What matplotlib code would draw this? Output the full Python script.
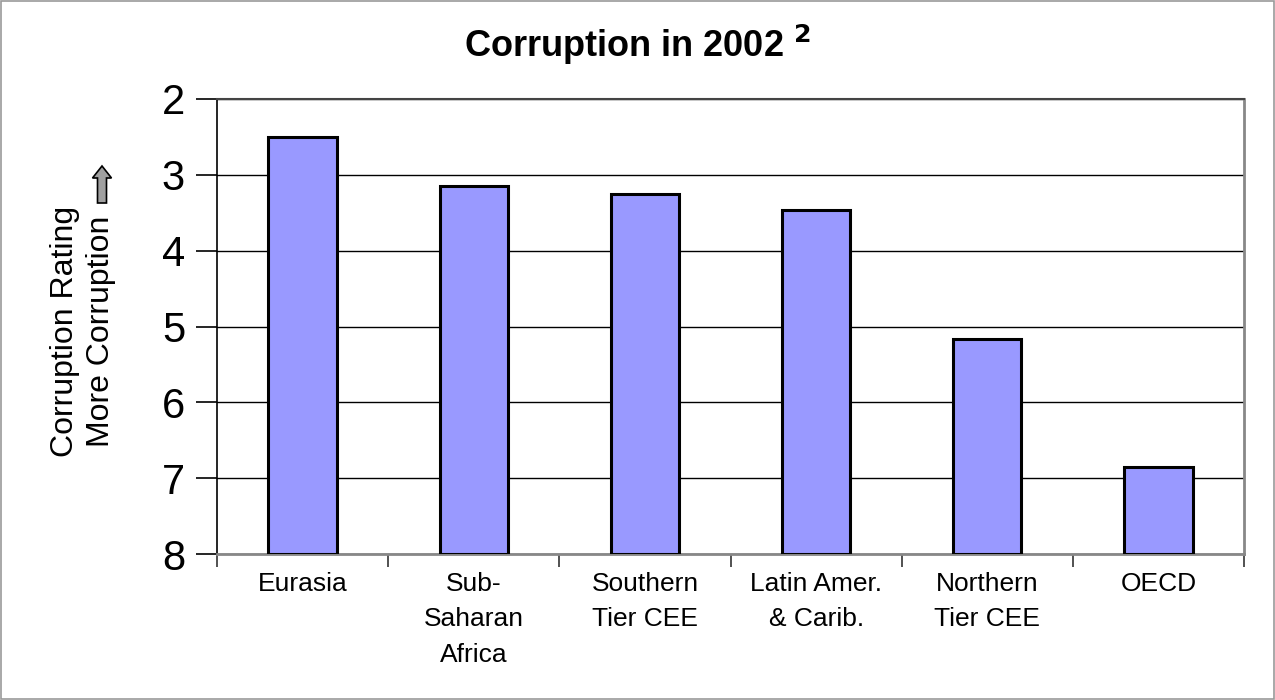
import matplotlib
matplotlib.use("Agg")
import matplotlib.pyplot as plt
from matplotlib.patches import FancyArrow, Rectangle

plt.rcParams['font.family'] = ['Liberation Sans', 'DejaVu Sans']

regions = ["Eurasia", "Sub-\nSaharan\nAfrica", "Southern\nTier CEE",
           "Latin Amer.\n& Carib.", "Northern\nTier CEE", "OECD"]
ratings = [2.5, 3.15, 3.25, 3.46, 5.16, 6.85]
y_ticks = [2, 3, 4, 5, 6, 7, 8]
baseline = 8

fig = plt.figure(figsize=(12.75, 7), dpi=100)
ax = fig.add_axes([217 / 1275, 1 - 554 / 700, 1027 / 1275, 455 / 700])

x = list(range(len(regions)))
heights = [r - baseline for r in ratings]
ax.bar(x, heights, bottom=baseline, width=0.4, color='#9999FF',
       edgecolor='black', linewidth=2.2, zorder=3)

ax.set_ylim(8, 2)
ax.set_xlim(-0.5, len(regions) - 0.5)
ax.set_yticks(y_ticks)
ax.set_yticklabels([str(t) for t in y_ticks], fontsize=30)
ax.yaxis.grid(True, color='black', linewidth=1.0, zorder=0)
ax.set_axisbelow(True)

ax.set_xticks(x)
ax.set_xticklabels(regions, fontsize=19, linespacing=1.6, va='top')
ax.tick_params(axis='x', length=0, pad=13)
ax.set_xticks([i - 0.5 for i in range(len(regions) + 1)], minor=True)
ax.tick_params(axis='x', which='minor', length=9, width=1.2, color='#333333')
ax.tick_params(axis='y', length=15, width=1.2, pad=8)

ax.spines['left'].set_color('black')
ax.spines['left'].set_linewidth(1.2)
ax.spines['bottom'].set_color('#888888')
ax.spines['bottom'].set_linewidth(2)
ax.spines['right'].set_color('#888888')
ax.spines['right'].set_linewidth(2)
ax.spines['top'].set_color('#444444')
ax.spines['top'].set_linewidth(1.5)

fig.text(0.5, 1 - 45 / 700, "Corruption in 2002 $^{\\mathbf{2}}$", ha='center', va='center',
         fontsize=26, fontweight='bold')

fig.text(65 / 1275, 1 - 331 / 700, "Corruption Rating", rotation=90,
         ha='center', va='center', fontsize=23)
fig.text(101 / 1275, 1 - 331 / 700, "More Corruption", rotation=90,
         ha='center', va='center', fontsize=23)

# upward block arrow beside the axis title
fig.patches.append(FancyArrow(102 / 1275, 1 - 203 / 700, 0, 37 / 700,
                              width=9 / 1275, head_width=19 / 1275,
                              head_length=12 / 700, length_includes_head=True,
                              facecolor='#A0A0A0', edgecolor='black',
                              linewidth=1.2, transform=fig.transFigure,
                              figure=fig))

fig.patches.append(Rectangle((0.0008, 0.0014), 0.9984, 0.9972, fill=False,
                             edgecolor='#999999', linewidth=1.2,
                             transform=fig.transFigure, figure=fig))

fig.savefig("out.png", dpi=100)
